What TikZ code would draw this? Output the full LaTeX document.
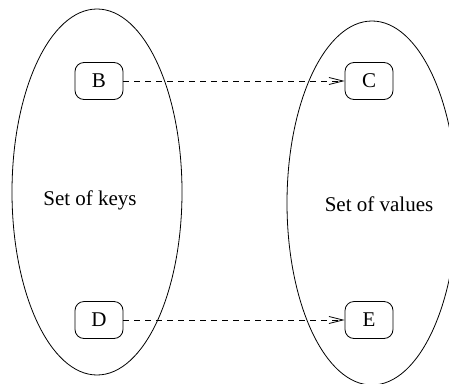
\documentclass[tikz,border=0pt]{standalone}
\usepackage{fontspec}
\setmainfont{Liberation Serif}
\usetikzlibrary{arrows.meta}
\begin{document}
\begin{tikzpicture}[x=1pt,y=-1pt,
  elem/.style={draw, line width=0.8pt, rounded corners=9pt, minimum width=48pt,
    minimum height=37pt, inner sep=0pt, font=\fontsize{21}{25}\selectfont},
  setlabel/.style={font=\fontsize{21}{25}\selectfont, inner sep=0pt},
  setoutline/.style={draw, line width=0.8pt},
  mapsto/.style={draw, line width=0.8pt, dash pattern=on 6pt off 5pt,
    -{Straight Barb[length=14pt,width=7pt,line width=0.8pt]}}]
  \useasboundingbox (0,0) rectangle (449,383);
  \clip (0,0) rectangle (449,383);
  % the two sets
  \draw[setoutline] (97,192) ellipse [x radius=85, y radius=183];
  \draw[setoutline] (372,203) ellipse [x radius=85, y radius=182];
  \node[setlabel] (keys) at (90,200) {Set of keys};
  \node[setlabel] (vals) at (379,204) {Set of values};
  % elements
  \node[elem] (B) at (99,81) {B};
  \node[elem] (C) at (369,81) {C};
  \node[elem] (D) at (99,320) {D};
  \node[elem] (E) at (369,320) {E};
  % mappings
  \draw[mapsto] (B) -- (C);
  \draw[mapsto] (D) -- (E);
\end{tikzpicture}
\end{document}
